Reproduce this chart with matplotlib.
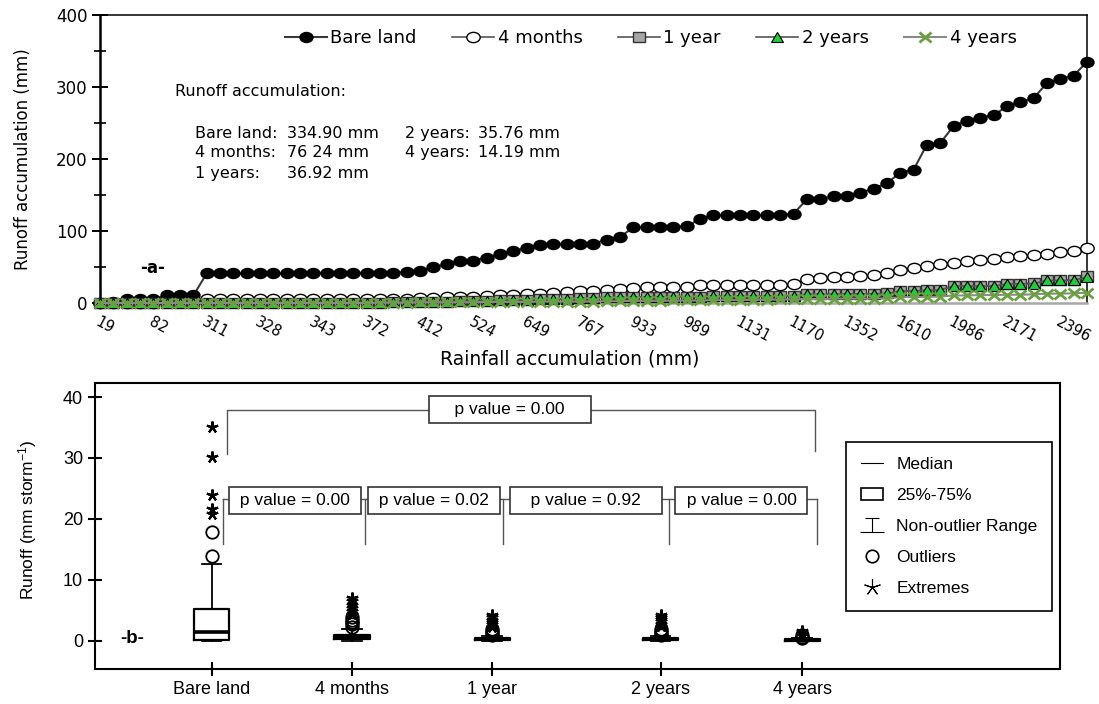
import matplotlib.pyplot as plt
from matplotlib.lines import Line2D
from matplotlib.patches import Rectangle
from matplotlib.path import Path
from matplotlib.markers import MarkerStyle
from matplotlib.transforms import Affine2D
import numpy as np

plt.rcParams['font.family'] = ['Liberation Sans', 'DejaVu Sans']
plt.rcParams['mathtext.default'] = 'regular'

# ---- panel a: runoff accumulation per event
rain_labels = ['19', '82', '311', '328', '343', '372', '412', '524', '649', '767',
               '933', '989', '1131', '1170', '1352', '1610', '1986', '2171', '2396']

bare_land = [0.5, 1, 5, 5, 5.5, 10.5, 10.5, 10.5,
             41, 41, 41, 41, 41, 41, 41, 41, 42, 42, 42, 42, 42, 42, 42, 43,
             45, 50, 54, 58, 59, 63, 67.5, 72, 77, 80,
             81.5, 81.5, 81.5, 82.5, 88, 92, 105, 106, 106, 106, 107, 116.5,
             122, 122, 122, 122, 122, 122, 124,
             144, 144, 148.5, 149, 153, 159, 166.5, 181, 185,
             220, 222, 246, 253, 257, 261, 273, 279, 284.5, 305.5, 311, 316, 334.9]

months_4 = [0, 0, 0.5, 0.5, 0.5, 1, 1, 1,
            5, 5, 5, 5, 5, 5, 5, 5, 5, 5,
            6, 6, 6, 6, 6, 6,
            7, 7.5, 8, 8.5, 9, 10, 10.5, 11, 12, 12.5,
            14, 15, 16, 16.5, 18, 19, 21, 22, 22, 22, 22,
            24.5, 25.5, 25.5, 25.5, 25.5, 25.5, 25.5, 26,
            33.5, 34.5, 35.5, 36.5, 37, 38.5, 42, 46.5, 48.5, 51.5, 54, 56,
            58.5, 60, 61.5, 64, 65.5, 66, 68.5, 71.5, 72.5, 76.24]

year_1 = [0] * 21 + [0.5, 0.8, 1, 1.3, 1.6, 2, 2.4, 2.8, 3.2, 3.6, 4, 4.5, 5, 5.5, 6,
                     7, 7.5, 8, 8, 8.5, 8.5, 9, 9, 9, 9, 9.5, 9.5, 9.5, 9.5, 10, 10, 10,
                     12.5, 12.5, 12.5, 13, 13, 13, 13.5,
                     17, 17, 18.5, 18.5, 24, 24, 24, 24, 27, 27, 27.5,
                     32, 32, 32.5, 36.92]

years_2 = [0] * 21 + [0.4, 0.7, 0.9, 1.2, 1.5, 1.9, 2.3, 2.7, 3.1, 3.5, 3.9, 4.4, 4.9, 5.4, 5.9,
                      6.8, 7.3, 7.8, 7.8, 8.3, 8.3, 8.8, 8.8, 8.8, 8.8, 9.3, 9.3, 9.3, 9.3, 9.8, 9.8, 9.8,
                      12.2, 12.2, 12.2, 12.7, 12.7, 12.7, 13.2,
                      16.6, 16.6, 18, 18, 23.5, 23.5, 23.5, 23.5, 26.5, 26.5, 27,
                      31.3, 31.3, 31.8, 35.76]

years_4 = [0] * 21 + [0.5, 0.5, 0.5, 1, 1, 1, 1, 1, 1.5, 1.5, 1.5, 1.5, 2, 2, 2,
                      2, 2, 2.5, 2.5, 3, 3, 3, 3.5, 3.5, 3.5, 4, 4, 4, 4.5, 4.5, 5, 5,
                      5.5, 5.5, 6, 6, 6, 6, 6.5,
                      8, 8.5, 8.5, 9, 10.5, 10.5, 11, 11, 11.5, 11.5, 12,
                      13, 13, 13.5, 14.19]

# totals written in the panel
total_names_1 = ['Bare land:', '4 months:', '1 years:']
total_vals_1 = ['334.90 mm', '76 24 mm', '36.92 mm']
total_names_2 = ['2 years:', '4 years:']
total_vals_2 = ['35.76 mm', '14.19 mm']

# ---- panel b: runoff per storm, box plot summary
groups = ['Bare land', '4 months', '1 year', '2 years', '4 years']
q1 = [0.1, 0.25, 0.12, 0.12, 0.05]
medians = [1.5, 0.6, 0.3, 0.3, 0.12]
q3 = [5.3, 1.0, 0.45, 0.45, 0.3]
whis_lo = [0, 0, 0, 0, 0]
whis_hi = [12.7, 2.0, 0.8, 0.8, 0.45]
outliers = [[13.9, 17.9],
            [2.3, 2.7, 3.1, 3.5, 3.9],
            [1.0, 1.3, 1.6, 1.9],
            [1.0, 1.3, 1.7, 2.0],
            [0.5, 0.7, 0.9]]
extremes = [[20.8, 21.6, 23.9, 30.1, 35.0],
            [4.4, 4.9, 5.4, 5.9, 6.5, 7.0],
            [2.3, 2.7, 3.1, 3.5, 3.9, 4.2],
            [2.4, 2.8, 3.2, 3.6, 4.0, 4.3],
            [1.1, 1.3, 1.7]]
p_top = 'p value = 0.00'
p_pairs = ['p value = 0.00', 'p value = 0.02', 'p value = 0.92', 'p value = 0.00']

fig = plt.figure(figsize=(10.99, 7.04), dpi=100)

# ================= top panel (drawn a bit wide, like the original)
wide = Affine2D().scale(1.3, 1.0)
ax1 = fig.add_axes([0.091, 0.5696, 0.898, 0.409])
idx = np.arange(len(bare_land))
ax1.plot(idx, bare_land, color='#3a3a3a', lw=1.5, marker=MarkerStyle('o', transform=wide),
         ms=7.2, mfc='black', mec='black', label='Bare land', clip_on=False, zorder=3)
ax1.plot(idx, months_4, color='#555555', lw=1.2, marker=MarkerStyle('o', transform=wide),
         ms=7.4, mfc='white', mec='black', mew=1, label='4 months', clip_on=False, zorder=4)
ax1.plot(idx, year_1, color='#555555', lw=1.2, marker=MarkerStyle('s', transform=wide),
         ms=7, mfc='#a6a6a6', mec='#333333', mew=1, label='1 year', clip_on=False, zorder=5)
ax1.plot(idx, years_2, color='#555555', lw=1.2, marker=MarkerStyle('^', transform=wide),
         ms=6.5, mfc='#1fcc3c', mec='black', mew=0.8, label='2 years', clip_on=False, zorder=6)
ax1.plot(idx, years_4, color='#8a8a8a', lw=1.5, marker=MarkerStyle('x', transform=wide),
         ms=7, mec='#6aa13f', mew=2, label='4 years', clip_on=False, zorder=7)

ax1.set_xlim(0, len(bare_land) - 1)
ax1.set_ylim(0, 400)
ax1.set_yticks([0, 100, 200, 300, 400])
ax1.set_yticks([50, 150, 250, 350], minor=True)
ax1.set_xticks(idx[::4])
ax1.set_xticklabels(rain_labels, rotation=-28, ha='left', va='top', rotation_mode='anchor')
ax1.tick_params(axis='x', length=0, pad=8.5, labelsize=10.5)
ax1.tick_params(axis='y', which='major', direction='inout', length=11, width=1.4, labelsize=12)
ax1.tick_params(axis='y', which='minor', direction='inout', length=8, width=1.2)
for lbl in ax1.get_xticklabels() + ax1.get_yticklabels():
    lbl.set_fontfamily('DejaVu Sans')
ax1.spines['left'].set_linewidth(1.8)
ax1.spines['top'].set_linewidth(1.1)
ax1.spines['right'].set_linewidth(1.1)
ax1.spines['bottom'].set_color('#a8a8a8')
ax1.spines['bottom'].set_linewidth(1.8)
ax1.set_ylabel('Runoff accumulation (mm)', fontsize=12, family='DejaVu Sans')
ax1.yaxis.set_label_coords(-0.069, 0.5)
ax1.set_xlabel('Rainfall accumulation (mm)', fontsize=13.5, family='DejaVu Sans')
ax1.xaxis.set_label_coords(0.476, -0.163)

ax1.legend(loc='center', bbox_to_anchor=(0.558, 0.920), ncol=5, frameon=False,
           prop=dict(family='DejaVu Sans', size=13),
           handlelength=2.33, handletextpad=0.2, columnspacing=1.95)

tkw = dict(transform=ax1.transAxes, fontsize=11.5, family='DejaVu Sans', va='center')
ax1.text(0.076, 0.733, 'Runoff accumulation:', **tkw)
rows_y = [0.590, 0.521, 0.451]
for name, val, yy in zip(total_names_1, total_vals_1, rows_y):
    ax1.text(0.0963, yy, name, **tkw)
    ax1.text(0.1895, yy, val, **tkw)
for name, val, yy in zip(total_names_2, total_vals_2, rows_y):
    ax1.text(0.309, yy, name, **tkw)
    ax1.text(0.383, yy, val, **tkw)
ax1.text(0.0405, 0.123, '-a-', transform=ax1.transAxes, fontsize=12, family='DejaVu Sans',
         fontweight='bold', va='center')

# ================= bottom panel
ax2 = fig.add_axes([0.0864, 0.0497, 0.878, 0.4063])
group_pos = [1, 2, 3, 4.2, 5.21]
stats = []
for i in range(len(groups)):
    stats.append(dict(med=medians[i], q1=q1[i], q3=q3[i], whislo=whis_lo[i],
                      whishi=whis_hi[i], fliers=[]))
ax2.bxp(stats, positions=group_pos, widths=0.25, capwidths=0.14, showfliers=False,
        boxprops=dict(color='black', lw=1.6),
        medianprops=dict(color='black', lw=2.6),
        whiskerprops=dict(color='black', lw=1.3),
        capprops=dict(color='black', lw=1.3))
for i in range(len(groups)):
    ax2.plot([group_pos[i]] * len(outliers[i]), outliers[i], ls='none', marker='o', ms=9,
             mfc='none', mec='black', mew=1.3, zorder=4)
    ax2.plot([group_pos[i]] * len(extremes[i]), extremes[i], ls='none', marker=(5, 2, 0), ms=8.5,
             color='black', mew=1.6, zorder=4)

ax2.set_xlim(0.168, 7.046)
ax2.set_ylim(-4.6, 42.3)
ax2.set_xticks(group_pos)
ax2.set_xticklabels(groups)
ax2.set_yticks([0, 10, 20, 30, 40])
ax2.tick_params(axis='both', direction='inout', length=10, width=1.5, labelsize=13)
for s in ax2.spines.values():
    s.set_linewidth(1.5)
ax2.set_ylabel('Runoff (mm storm$^{-1}$)', fontsize=12.5)
ax2.yaxis.set_label_coords(-0.058, 0.521)
ax2.text(0.026, 0.105, '-b-', transform=ax2.transAxes, fontsize=13.5, fontweight='bold',
         va='center')

# significance brackets
bc = '#555555'
bbox_kw = dict(boxstyle='square,pad=0.35', fc='white', ec='#333333', lw=1.2)
ax2.plot([1.111, 1.111, 5.30, 5.30], [30.6, 37.9, 37.9, 31.1], color=bc, lw=1)
ax2.text(3.126, 37.9, '    ' + p_top + '    ', fontsize=12.5, ha='center', va='center',
         zorder=5, bbox=bbox_kw)
ax2.plot([1.083, 5.312], [23.3, 23.3], color=bc, lw=1)
for xv in [1.083, 2.093, 3.078, 4.262, 5.312]:
    ax2.plot([xv, xv], [23.3, 15.9], color=bc, lw=1)
pad_sp = [' ', ' ', '   ', ' ']
for xc, txt, sp in zip([1.594, 2.585, 3.668, 4.776], p_pairs, pad_sp):
    ax2.text(xc, 23.0, sp + txt + sp, fontsize=12.5, ha='center', va='center', zorder=5,
             bbox=bbox_kw)

# legend of the box plot elements
ibeam = Path([(-0.45, 0.5), (0.45, 0.5), (0, 0.5), (0, -0.5), (-0.8, -0.5), (0.8, -0.5)],
             [Path.MOVETO, Path.LINETO, Path.MOVETO, Path.LINETO, Path.MOVETO, Path.LINETO])
handles = [Line2D([], [], color='black', lw=0.8),
           Rectangle((0, 0), 1, 1, fc='white', ec='black', lw=1.2),
           Line2D([], [], ls='none', marker=ibeam, ms=17, mfc='none', mec='black', mew=0.8),
           Line2D([], [], ls='none', marker='o', ms=9, mfc='none', mec='black', mew=1.2),
           Line2D([], [], ls='none', marker=(5, 2, 0), ms=12, color='black', mew=0.8)]
leg = ax2.legend(handles, ['Median', '25%-75%', 'Non-outlier Range', 'Outliers', 'Extremes'],
                 loc='upper right', bbox_to_anchor=(0.992, 0.794), borderaxespad=0,
                 fontsize=12.5, fancybox=False, edgecolor='black', framealpha=1,
                 borderpad=0.85, labelspacing=0.92, handlelength=1.3, handletextpad=0.75)
leg.get_frame().set_linewidth(1.2)

plt.savefig('out.png', dpi=100)
